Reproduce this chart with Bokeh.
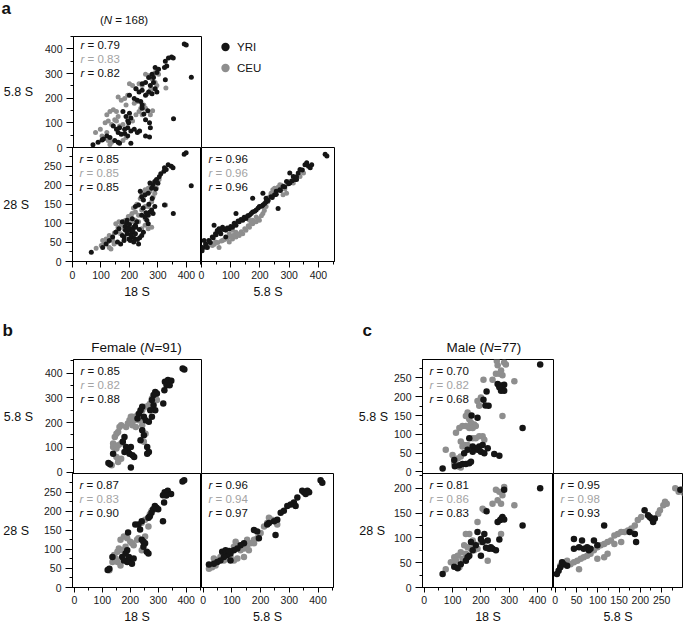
from bokeh.plotting import figure
from bokeh.models import Label, Legend, LegendItem, SingleIntervalTicker, Range1d
from bokeh.layouts import row, column
from bokeh.embed import file_html
from bokeh.resources import INLINE

FONT = "Liberation Sans"
BLACK = "#151515"
GRAY = "#8e8e8e"
RGRAY = "#a3a3a3"

# ---------------- data ----------------
pops = ["YRI", "CEU"]

# panel a (N = 168): 5.8S vs 18S
a_t_yri_x = [392,399,417,354,325,325,336,347,353,322,330,289,301,295,278,266,283,243,255,272,283,289,295,221,232,243,255,266,278,198,215,226,238,243,175,186,198,192,203,195,163,181,192,203,215,226,234,141,152,158,169,181,192,106,118,129,146,158,163,87,101,69,203,249,255,269,272,255,269,263,243]
a_t_yri_y = [420,416,285,117,275,350,363,367,363,324,330,324,317,304,297,284,284,258,264,251,264,238,225,238,225,232,212,225,218,212,199,192,186,172,146,126,139,107,120,100,80,74,80,67,74,61,67,87,74,61,54,57,47,34,47,41,28,21,17,21,30,11,17,136,113,100,80,47,43,149,159]
a_t_ceu_x = [78,95,101,118,118,129,141,152,158,112,123,135,146,158,169,181,192,186,198,209,221,232,243,255,266,278,283,289,295,301,289,272,327,280,249,255,272,243,163,175,152,123,135,129,175,186,209,221,232,215,226,238,261,278]
a_t_ceu_y = [61,74,47,61,133,146,153,146,126,100,107,93,113,205,192,199,212,172,258,251,238,258,251,297,291,278,297,304,251,297,264,232,241,149,172,159,133,133,87,93,107,28,21,12,28,41,107,133,146,179,186,159,218,238]
# panel a: 28S vs 18S
a_l_yri_x = [392,399,417,354,323,323,336,347,353,321,329,289,283,278,272,295,238,243,249,255,266,221,232,289,278,283,272,266,255,243,261,266,226,221,215,203,198,209,192,186,175,181,198,209,221,163,152,141,129,118,106,203,215,249,158,169,181,66,232,243,175,192,
             185,195,205,212,218,228,236,190,200,210,222,235,248,258,268,280,292,300,305,310]
a_l_yri_y = [281,285,199,126,148,246,254,250,246,237,241,210,201,192,206,215,184,170,161,175,179,144,148,144,135,126,130,121,117,121,108,99,104,95,90,86,82,77,73,82,68,64,59,64,73,86,77,64,55,46,37,55,51,77,51,46,55,24,46,68,104,108,
             92,88,70,80,60,58,62,100,97,112,90,84,140,128,150,165,190,205,222,230]
a_l_ceu_x = [83,101,118,129,141,146,152,163,175,186,198,158,169,181,209,221,232,243,255,243,255,266,272,283,278,289,295,327,266,278,255,243,221,232,209,106,129,135,266,255,
             112,124,136,147,160,172,185,196,205,214,226,238,250,262,274,286,298,304]
a_l_ceu_y = [35,42,59,68,55,46,99,104,95,108,113,81,73,86,126,130,121,135,144,179,188,192,184,170,157,179,192,148,86,90,95,86,108,104,104,55,37,33,144,113,
             48,52,62,75,90,97,101,118,120,140,150,165,172,186,198,206,212,215]
# panel a: 28S vs 5.8S
a_r_yri_x = [423,429,354,366,377,372,360,337,331,314,320,302,291,279,268,256,250,238,262,221,210,198,187,175,164,152,141,129,118,106,95,83,118,72,60,48,37,25,14,5,9,20,2,43,54,66,83,175,210,221,302,325,
             30,40,50,62,75,88,100,112,125,135,146,158,170,182,194,206,216,228,242,256,270,285,298,310,325,345]
a_r_yri_y = [281,277,254,250,254,246,259,241,232,223,215,206,210,197,188,184,175,170,139,157,148,144,135,130,121,113,108,104,95,90,86,82,126,90,86,73,64,55,46,37,55,37,28,95,81,73,64,166,179,166,232,215,
             50,62,70,78,84,88,92,100,106,110,116,120,126,132,140,145,152,160,168,176,186,196,204,212,222,240]
a_r_ceu_x = [14,25,37,48,60,72,83,95,106,118,129,141,152,164,175,187,198,210,221,233,238,244,250,256,268,279,291,106,95,118,175,187,164,314,337,349,
             20,32,44,56,68,78,90,102,112,124,136,148,160,170,182,194,205,215,226,246,262,274,285,300]
a_r_ceu_y = [37,46,42,51,37,55,59,51,59,64,68,73,82,90,99,104,108,126,144,170,179,188,192,184,201,175,179,82,73,77,108,117,108,206,223,232,
             40,48,45,50,54,58,62,66,70,72,78,86,94,100,104,112,120,134,156,182,195,200,190,210]

# panel b (Female, N = 91)
b_t_yri_x = [387,393,323,334,346,340,329,321,317,288,294,282,276,282,288,241,247,253,265,235,229,224,241,247,235,259,265,259,177,183,189,195,177,206,212,171,200,136,119,125,200,270,276]
b_t_yri_y = [419,415,365,372,369,351,351,331,277,324,318,311,291,270,250,264,223,209,203,250,236,216,169,149,128,101,81,74,142,101,88,74,81,68,61,122,101,74,36,31,18,250,223]
b_t_ceu_x = [136,142,148,154,159,165,136,148,154,165,171,189,195,200,206,212,218,224,229,241,253,265,270,276,288,294,148,154,165,131,247,253,241,183,206,218]
b_t_ceu_y = [115,142,155,162,182,189,101,95,108,115,122,196,209,223,223,209,223,230,209,250,264,270,277,297,304,291,61,41,54,27,122,155,189,182,189,182]
b_l_yri_x = [387,393,323,334,346,329,317,321,317,288,294,300,282,276,270,265,241,229,235,241,247,253,247,259,265,189,183,195,200,189,206,212,192,136,125,119,171,177,218]
b_l_yri_y = [278,281,250,254,245,241,242,223,174,214,209,205,205,196,187,183,174,165,152,125,120,116,107,94,89,98,89,80,71,67,62,76,144,80,49,46,80,71,165]
b_l_ceu_x = [125,136,148,154,159,165,177,189,200,171,183,154,165,206,212,224,229,241,253,265,270,276,288,253,265,241,142]
b_l_ceu_y = [45,67,76,94,102,125,134,129,120,98,107,67,58,116,111,125,129,170,178,183,192,201,205,134,160,98,85]
b_r_yri_x = [409,415,345,351,363,357,369,328,316,322,305,293,281,270,258,247,229,223,252,177,188,194,142,130,119,107,95,84,72,66,78,90,60,49,37,20,95]
b_r_yri_y = [281,275,254,250,254,245,250,236,223,214,218,214,201,196,178,174,169,165,138,151,147,129,116,111,102,98,89,85,80,94,98,96,71,67,62,60,71]
b_r_ceu_x = [20,31,43,49,37,60,72,84,95,107,119,130,142,153,165,177,188,200,212,223,229,240,258,107,113,153,142,177,159]
b_r_ceu_y = [49,53,58,71,76,80,71,76,80,71,76,98,102,111,116,125,129,143,160,169,183,178,165,107,120,125,80,116,98]

# panel c (Male, N = 77)
c_t_yri_x = [409,347,259,271,282,276,282,271,265,220,209,216,227,167,188,159,171,182,194,206,224,188,200,212,247,265,153,141,171,106,124,135,147,159,165,65,108]
c_t_yri_y = [286,117,234,230,232,221,216,216,225,214,192,177,176,150,144,90,68,63,68,72,63,59,54,50,48,43,59,50,54,32,18,21,21,23,27,9,15]
c_t_ceu_x = [256,282,288,259,271,253,265,276,209,241,318,276,188,200,194,153,159,147,165,176,112,124,135,147,159,171,182,194,206,212,129,141,135,153,76,100,118,129,106,124,129,171,182]
c_t_ceu_y = [295,291,286,284,270,261,261,257,245,245,241,149,189,198,176,158,140,149,131,126,104,117,122,122,117,90,90,95,95,86,81,72,68,72,59,45,36,41,23,14,12,117,122]
c_l_yri_x = [409,282,347,259,268,273,276,282,265,220,212,224,206,241,253,229,235,218,200,182,165,171,159,129,147,153,106,118,65,188,200]
c_l_yri_y = [200,197,125,132,136,139,142,137,97,154,108,95,92,78,75,78,81,80,98,85,92,75,64,47,54,61,42,39,27,112,64]
c_l_ceu_x = [253,265,259,271,276,241,282,318,188,206,212,159,147,171,176,188,176,165,153,141,129,118,106,94,112,124,135,147,271,76,224,200]
c_l_ceu_y = [197,193,176,169,186,169,203,166,132,159,156,108,108,95,88,78,75,78,81,85,71,64,61,51,54,41,58,68,108,37,54,92]
c_r_yri_x = [294,210,218,226,230,222,234,175,187,190,115,91,99,83,75,79,67,56,44,44,16,20,12,8,4,28,63]
c_r_yri_y = [197,156,146,139,132,142,139,112,108,92,125,95,85,78,81,75,78,81,78,98,51,47,41,34,27,44,95]
c_r_ceu_x = [282,290,298,302,258,262,254,246,242,202,194,187,179,171,163,155,147,139,131,123,115,107,99,91,83,75,67,60,52,44,36,28,20,12,56,99,115,123,139,155]
c_r_ceu_y = [200,193,197,190,173,169,166,156,149,142,136,125,119,115,112,112,108,105,95,92,88,85,81,75,68,64,61,58,54,51,47,54,51,44,37,58,61,68,88,92]

# correlation labels: [YRI, CEU, all]
a_r_t = ["0.79", "0.83", "0.82"]
a_r_l = ["0.85", "0.85", "0.85"]
a_r_r = ["0.96", "0.96", "0.96"]
b_r_t = ["0.85", "0.82", "0.88"]
b_r_l = ["0.87", "0.83", "0.90"]
b_r_r = ["0.96", "0.94", "0.97"]
c_r_t = ["0.70", "0.82", "0.68"]
c_r_l = ["0.81", "0.86", "0.83"]
c_r_r = ["0.95", "0.98", "0.93"]

OV = 7  # overlap (px) so edge tick labels are not cut by neighbouring canvases


# ---------------- helpers ----------------
def make(xr, yr, fw, fh, bl, br, bt, bb, xaxis, yaxis, xstep=100, ystep=100,
         xlabel=None, ylabel=None, tick_out=6, std=3, lab_std=3, ylab_std=9,
         transparent=False, margin=None):
    kw = {}
    if margin is not None:
        kw["margin"] = margin
    p = figure(width=bl + fw + br, height=bt + fh + bb,
               x_range=Range1d(*xr), y_range=Range1d(*yr),
               min_border_left=bl, min_border_right=br,
               min_border_top=bt, min_border_bottom=bb,
               x_axis_location="below" if xaxis else None,
               y_axis_location="left" if yaxis else None,
               toolbar_location=None, output_backend="svg", title=None, **kw)
    p.grid.grid_line_color = None
    p.outline_line_color = "black"
    p.outline_line_width = 1
    p.background_fill_color = "white"
    p.border_fill_color = None if transparent else "white"
    if xaxis:
        ax = p.xaxis
        ax.ticker = SingleIntervalTicker(interval=xstep, num_minor_ticks=2)
        ax.major_tick_out = tick_out
        ax.major_label_standoff = std
        if xlabel:
            ax.axis_label = xlabel
            ax.axis_label_standoff = lab_std
    if yaxis:
        ax = p.yaxis
        ax.ticker = SingleIntervalTicker(interval=ystep, num_minor_ticks=2)
        ax.major_tick_out = 7
        ax.major_label_standoff = 4
        if ylabel:
            ax.axis_label = ylabel
            ax.axis_label_orientation = "horizontal"
            ax.axis_label_standoff = ylab_std
    for ax in p.axis:
        ax.major_tick_in = 0
        ax.minor_tick_in = 0
        ax.minor_tick_out = 3
        ax.axis_line_color = "black"
        ax.major_tick_line_color = "black"
        ax.minor_tick_line_color = "black"
        ax.major_label_text_font = FONT
        ax.major_label_text_font_size = "10.5px"
        ax.major_label_text_color = "#1a1a1a"
        ax.axis_label_text_font = FONT
        ax.axis_label_text_font_size = "12.5px"
        ax.axis_label_text_font_style = "normal"
        ax.axis_label_text_color = "#111111"
    return p


def blank(w, h, bl=0, bt=0):
    p = figure(width=w, height=h, x_range=Range1d(0, 1), y_range=Range1d(0, 1),
               min_border_left=bl, min_border_right=0, min_border_top=bt,
               min_border_bottom=0, x_axis_location=None, y_axis_location=None,
               toolbar_location=None, output_backend="svg", title=None)
    p.grid.grid_line_color = None
    p.outline_line_color = None
    p.background_fill_color = "white"
    p.border_fill_color = "white"
    return p


def lab(p, fh, x, ytop, text, size="11.5px", color="#111111", style="normal",
        align="left"):
    p.add_layout(Label(x=x, y=fh - ytop, x_units="screen", y_units="screen",
                       text=text, text_font=FONT, text_font_size=size,
                       text_color=color, text_font_style=style,
                       text_align=align, text_baseline="middle"))


def rtexts(p, fh, vals):
    cols = ["#111111", RGRAY, "#111111"]
    for i, (v, c) in enumerate(zip(vals, cols)):
        yt = 11.5 + 14 * i
        lab(p, fh, 7, yt, "r", color=c, style="italic")
        lab(p, fh, 14, yt, "= " + v, color=c)


def pts(p, yx, yy, cx, cy, size):
    rc = p.scatter(cx, cy, size=size, color=GRAY, line_color=None)
    ry = p.scatter(yx, yy, size=size, color=BLACK, line_color=None)
    return ry, rc


# ---------------- panel a ----------------
FH = 114
HA = blank(335, 32)
lab(HA, 32, 1, 8, "a", size="17px", style="bold")
lab(HA, 32, 99.4, 19, "(")
lab(HA, 32, 103.2, 19, "N", style="italic")
lab(HA, 32, 114.7, 19, "= 168)")

A1 = make((0, 453), (0, 450), 132, FH, 69, 1, 1, OV, False, True, ylabel="5.8 S")
A2 = make((0, 453), (0, 299), 132, FH, 69, 0, 0, 49, True, True, ystep=50,
          xlabel="18 S", ylabel="28 S", ylab_std=12, transparent=True,
          margin=(-OV, 0, 0, 0))
A3 = make((0, 455), (0, 299), 133, FH, OV, 1, 0, 49, True, False, ystep=50,
          xlabel="5.8 S", transparent=True, margin=(-OV, 0, 0, -OV))
pts(A1, a_t_yri_x, a_t_yri_y, a_t_ceu_x, a_t_ceu_y, 5)
pts(A2, a_l_yri_x, a_l_yri_y, a_l_ceu_x, a_l_ceu_y, 5)
pts(A3, a_r_yri_x, a_r_yri_y, a_r_ceu_x, a_r_ceu_y, 5)
rtexts(A1, FH, a_r_t)
rtexts(A2, FH, a_r_l)
rtexts(A3, FH, a_r_r)

# legend area (its markers stay outside the visible 0..1 range)
LG = blank(133, 1 + FH + OV, bl=11, bt=4)
ly = LG.scatter(a_t_yri_x, a_t_yri_y, size=9, color=BLACK, line_color=None)
lc = LG.scatter(a_t_ceu_x, a_t_ceu_y, size=9, color=GRAY, line_color=None)
leg = Legend(items=[LegendItem(label=pops[0], renderers=[ly]),
                    LegendItem(label=pops[1], renderers=[lc])],
             location="top_left", orientation="vertical",
             glyph_width=24, glyph_height=21, spacing=0, label_standoff=0,
             label_text_font=FONT, label_text_font_size="11.5px",
             label_text_color="#111111",
             border_line_color=None, background_fill_alpha=0,
             padding=0, margin=0)
LG.add_layout(leg, "center")

panel_a = column(row(HA), row(A1, LG), row(A2, A3))

# ---------------- panel b ----------------
FB1, FB2 = 114, 114
HB = blank(335, 48)
lab(HB, 48, 2, 20, "b", size="17px", style="bold")
lab(HB, 48, 90.8, 36.7, "Female (", size="13.5px")
lab(HB, 48, 144.1, 36.7, "N", size="13.5px", style="italic")
lab(HB, 48, 153.9, 36.7, "=91)", size="13.5px")

B1 = make((-7, 455), (-6, 455), 132, FB1, 69, 1, 1, OV, False, True, ylabel="5.8 S")
B2 = make((-7, 455), (0, 299), 132, FB2, 69, 0, 0, 39, True, True, ystep=50,
          xlabel="18 S", ylabel="28 S", ylab_std=12, tick_out=5, std=3, lab_std=3,
          transparent=True, margin=(-OV, 0, 0, 0))
B3 = make((-6, 454), (0, 299), 132, FB2, OV, 1, 0, 39, True, False, ystep=50,
          xlabel="5.8 S", tick_out=5, std=3, lab_std=3,
          transparent=True, margin=(-OV, 0, 0, -OV))
pts(B1, b_t_yri_x, b_t_yri_y, b_t_ceu_x, b_t_ceu_y, 6.5)
pts(B2, b_l_yri_x, b_l_yri_y, b_l_ceu_x, b_l_ceu_y, 6.5)
pts(B3, b_r_yri_x, b_r_yri_y, b_r_ceu_x, b_r_ceu_y, 6.5)
rtexts(B1, FB1, b_r_t)
rtexts(B2, FB2, b_r_l)
rtexts(B3, FB2, b_r_r)
panel_b = column(row(HB), row(B1), row(B2, B3))

# ---------------- panel c ----------------
HC = blank(349, 48)
lab(HC, 48, 27, 20, "c", size="17px", style="bold")
lab(HC, 48, 111, 36.7, "Male (", size="13.5px")
lab(HC, 48, 148.5, 36.7, "N", size="13.5px", style="italic")
lab(HC, 48, 158.3, 36.7, "=77)", size="13.5px")

C1 = make((-6, 456), (-4, 299), 131, FB1, 87, 1, 1, OV, False, True, ystep=50,
          ylabel="5.8 S", ylab_std=3)
C2 = make((-6, 456), (0, 230), 131, FB2, 87, 0, 0, 39, True, True, ystep=50,
          xlabel="18 S", ylabel="28 S", ylab_std=6, tick_out=5, std=3, lab_std=3,
          transparent=True, margin=(-OV, 0, 0, 0))
C3 = make((-4, 299), (0, 230), 129, FB2, OV, 1, 0, 39, True, False, xstep=50, ystep=50,
          xlabel="5.8 S", tick_out=5, std=3, lab_std=3,
          transparent=True, margin=(-OV, 0, 0, -OV))
pts(C1, c_t_yri_x, c_t_yri_y, c_t_ceu_x, c_t_ceu_y, 6.5)
pts(C2, c_l_yri_x, c_l_yri_y, c_l_ceu_x, c_l_ceu_y, 6.5)
pts(C3, c_r_yri_x, c_r_yri_y, c_r_ceu_x, c_r_ceu_y, 6.5)
rtexts(C1, FB1, c_r_t)
rtexts(C2, FB2, c_r_l)
rtexts(C3, FB2, c_r_r)
panel_c = column(row(HC), row(C1), row(C2, C3))

layout = column(panel_a, row(panel_b, panel_c))
open("out.html", "w").write(file_html(layout, INLINE))
